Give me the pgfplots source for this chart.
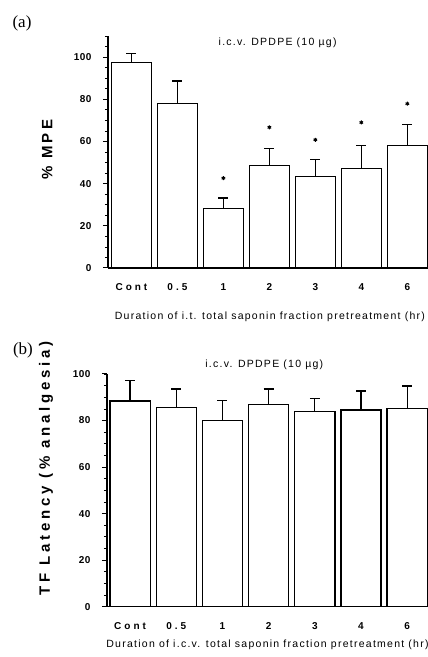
\documentclass[border=0pt]{standalone}
\usepackage{fontspec}
\setmainfont{Liberation Sans}
\newfontfamily\panelfont{Liberation Serif}
\newfontfamily\xtickfont[LetterSpace=30]{Liberation Sans}
\newfontfamily\ytickfont[LetterSpace=5]{Liberation Sans}
\newfontfamily\labfont[LetterSpace=22]{Liberation Sans}
\newfontfamily\labfontb[LetterSpace=25]{Liberation Sans}
\newfontfamily\titfont[LetterSpace=12]{Liberation Sans}
\usepackage{pgfplots}
\pgfplotsset{compat=1.18}

\pgfplotsset{
  panel/.style={
    scale only axis,
    anchor=south west,
    axis lines*=left,
    axis line style={line width=1.3pt, -},
    xmin=-0.51, xmax=6.45,
    xtick={0,1,2,3,4,5,6},
    xticklabels={Cont,0.5,1,2,3,4,6},
    xtick style={draw=none},
    xticklabel style={font=\xtickfont\bfseries\fontsize{10}{10}\selectfont, yshift=-7pt},
    ymin=0,
    tick align=outside,
    major tick length=5pt,
    minor tick length=3pt,
    ytick style={line width=1pt, black},
    minor y tick style={line width=0.8pt},
    yticklabel style={font=\ytickfont\bfseries\fontsize{10}{10}\selectfont, xshift=-8pt},
    /pgf/number format/assume math mode=true,
    ylabel style={font=\labfont\bfseries\fontsize{15}{15}\selectfont, anchor=center},
    xlabel style={font=\titfont\fontsize{10.5}{10.5}\selectfont, anchor=center},
    title style={font=\titfont\fontsize{10.5}{10.5}\selectfont, anchor=center},
    ybar, bar width=0.87,
  },
  bars/.style={
    draw=black, fill=white, line width=1.3pt,
    error bars/.cd, y dir=plus, y explicit,
    error bar style={line width=1.3pt, black},
    error mark options={rotate=90, line width=1.3pt, mark size=5pt, black},
  },
}

\begin{document}
\begin{tikzpicture}
\useasboundingbox (0,0) rectangle (428pt,657pt);

% (a) intrathecal pretreatment
\begin{axis}[panel,
  at={(108pt,389pt)},
  width=320pt, height=232pt,
  ymax=110,
  ytick={0,20,40,60,80,100},
  minor ytick={5,10,...,110},
  ylabel={\% MPE},
  ylabel style={at={(axis description cs:-0.19,0.51)}},
  xlabel={Duration of i.t. total saponin fraction pretreatment (hr)},
  xlabel style={at={(axis description cs:0.506,-0.21)}},
  title={i.c.v. DPDPE (10 µg)},
  title style={at={(axis description cs:0.53,0.944)}},
]
\addplot[bars] coordinates {
  (0,97.6) +- (0,4.0)
  (1,77.9) +- (0,10.7)
  (2,28.3) +- (0,4.9)
  (3,48.5) +- (0,8.1)
  (4,43.4) +- (0,7.9)
  (5,47.2) +- (0,10.9)
  (6,58.1) +- (0,10.1)
};
\addplot[only marks, mark=asterisk, mark size=2pt, line width=1pt, black] coordinates {
  (2,42.6) (3,66.7) (4,60.8) (5,69.0) (6,77.9)
};
\end{axis}

% (b) intracerebroventricular pretreatment
\begin{axis}[panel,
  at={(107pt,50.3pt)},
  width=321pt, height=232.7pt,
  xmin=-0.50,
  ymax=100,
  ytick={0,20,40,60,80,100},
  minor ytick={5,10,...,100},
  ylabel={TF Latency (\% analgesia)},
  ylabel style={at={(axis description cs:-0.19,0.595)}, font=\labfontb\bfseries\fontsize{15}{15}\selectfont},
  xlabel={Duration of i.c.v. total saponin fraction pretreatment (hr)},
  xlabel style={at={(axis description cs:0.50,-0.165)}},
  title={i.c.v. DPDPE (10 µg)},
  title style={at={(axis description cs:0.49,1.013)}},
]
\addplot[bars] coordinates {
  (0,88.4) +- (0,8.7)
  (1,85.7) +- (0,7.9)
  (2,79.9) +- (0,8.6)
  (3,86.8) +- (0,6.8)
  (4,83.8) +- (0,5.7)
  (5,84.5) +- (0,8.2)
  (6,85.1) +- (0,9.7)
};
\end{axis}

% panel letters
\node[font=\panelfont\fontsize{17}{17}\selectfont] at (22pt,634pt) {(a)};
\node[font=\panelfont\fontsize{17}{17}\selectfont] at (23pt,307pt) {(b)};
\end{tikzpicture}
\end{document}
